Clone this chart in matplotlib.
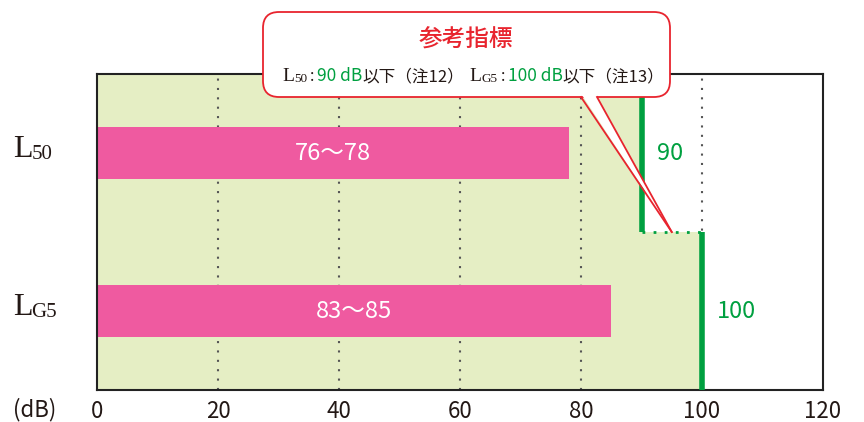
import matplotlib
matplotlib.use('Agg')
import matplotlib.pyplot as plt
from matplotlib.patches import FancyBboxPatch, Polygon
from matplotlib.lines import Line2D
from matplotlib.text import Annotation
from matplotlib.transforms import IdentityTransform

plt.rcParams['font.family'] = ['Noto Sans CJK JP', 'DejaVu Sans']

# data
label_main = ['L', 'L']
label_sub = ['50', 'G5']
range_low = [76, 83]
range_high = [78, 85]
limits = [90, 100]
ypos = [1.5, 0.5]
xticks = [0, 20, 40, 60, 80, 100, 120]

GREEN = '#00a040'
PINK = '#ef5aa0'
RED = '#e8242e'
INK = '#231815'

W, H = 864, 422
fig = plt.figure(figsize=(W / 100, H / 100), dpi=100)
ax = fig.add_axes([97 / W, 32 / H, 726 / W, 316 / H])
ax.set_xlim(0, 120)
ax.set_ylim(0, 2)

# shaded "ok" area
for y, lim in zip(ypos, limits):
    ax.fill_between([0, lim], y - 0.5, y + 0.5, color='#e5eec4', lw=0, zorder=0)

# dotted grid
for x in xticks[1:-1]:
    ax.axvline(x, color='#555555', ls=(0, (1, 3.5)), lw=1.5, zorder=1)

# bars
ax.barh(ypos, range_high, height=0.335, color=PINK, zorder=2)
for y, lo, hi in zip(ypos, range_low, range_high):
    ax.text(hi / 2, y, f'{lo}～{hi}', color='white', ha='center', va='center',
            fontsize=17, zorder=3)

# guideline limits
for y, lim in zip(ypos, limits):
    ax.plot([lim, lim], [y - 0.5, y + 0.5], color=GREEN, lw=4,
            solid_capstyle='butt', zorder=3)
    ax.text(lim + 2.5, y, str(lim), color=GREEN, fontsize=17, va='center', ha='left')
ax.plot(limits, [1, 1], color=GREEN, lw=2, ls=(0, (1, 3)), zorder=3)

ax.set_yticks([])
ax.set_xticks(xticks)
ax.tick_params(axis='x', length=0, pad=7, labelsize=16, labelcolor=INK)
for s in ax.spines.values():
    s.set_linewidth(1.5)
    s.set_color('#222222')

fig.text(35 / W, 1 - 410 / H, '(dB)', ha='center', va='center', fontsize=16, color=INK)

# y labels: big L + small subscript
for y, m, sub in zip(ypos, label_main, label_sub):
    lt = ax.text(-0.115, y - 0.07, m, transform=ax.get_yaxis_transform(),
                 fontsize=23, family='Liberation Serif', color=INK,
                 ha='left', va='bottom')
    ax.annotate(sub, xy=(1, 0), xycoords=lt, xytext=(-1, 0), textcoords='offset points',
                fontsize=15, family='Liberation Serif', color=INK,
                ha='left', va='bottom', annotation_clip=False)

# callout
px = IdentityTransform()
box = FancyBboxPatch((263, H - 97), 407, 85,
                     boxstyle='round,pad=0,rounding_size=16',
                     fc='white', ec=RED, lw=1.3, transform=px, zorder=4)
fig.add_artist(box)
fig.canvas.draw()
tip = ax.transData.transform((95, 1))
b1 = (581, H - 97)
b2 = (597, H - 97)
fig.add_artist(Polygon([(b1[0] + 1, b1[1] + 2), (b2[0] - 1, b2[1] + 2), tuple(tip)],
                       closed=True, fc='white', ec='none', transform=px, zorder=5))
for b in (b1, b2):
    fig.add_artist(Line2D([b[0], tip[0]], [b[1], tip[1]], color=RED, lw=1.3,
                          transform=px, zorder=6))

fig.text(466, H - 40, '参考指標', color=RED, fontsize=17, fontweight='medium',
         ha='center', va='center', transform=px, zorder=7)

pieces = [
    ('L', INK, 14, 'Liberation Serif', 0),
    ('50', INK, 9.5, 'Liberation Serif', 0),
    (':', INK, 11.5, None, 2),
    ('90 dB', GREEN, 12.5, None, 2),
    ('以下（注12）', INK, 12, None, 0),
    ('L', INK, 14, 'Liberation Serif', 4),
    ('G5', INK, 9.5, 'Liberation Serif', 0),
    (':', INK, 11.5, None, 2),
    ('100 dB', GREEN, 12.5, None, 2),
    ('以下（注13）', INK, 12, None, 0),
]
prev = None
for txt, col, fs, fam, gap in pieces:
    kw = dict(color=col, fontsize=fs, ha='left', va='bottom', zorder=7)
    if fam:
        kw['family'] = fam
    if prev is None:
        prev = fig.text(282, H - 85, txt, transform=px, **kw)
    else:
        a = Annotation(txt, xy=(1, 0), xycoords=prev, xytext=(gap, 0),
                       textcoords='offset points', **kw)
        fig.add_artist(a)
        prev = a

fig.savefig('out.png', dpi=100)
